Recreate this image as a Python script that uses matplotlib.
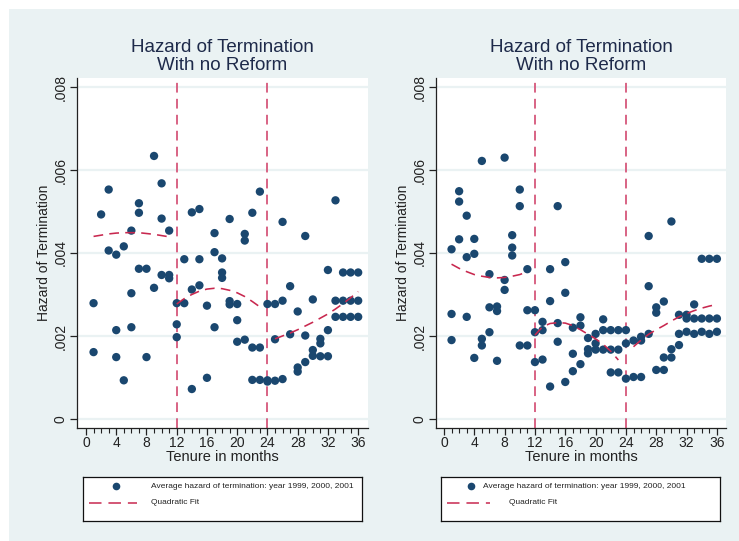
import matplotlib
matplotlib.use("Agg")
import matplotlib.pyplot as plt
from matplotlib.lines import Line2D
from matplotlib.patches import Rectangle

plt.rcParams['font.family'] = ['Liberation Sans', 'DejaVu Sans']
plt.rcParams['lines.scale_dashes'] = False

months = list(range(1, 37))

# hazard values per month (units of 1e-3)
left_pts = [
    [2.79, 1.61], [4.93], [5.53, 4.06], [3.96, 2.14, 1.49], [4.16, 0.93],
    [4.54, 3.03, 2.21], [5.20, 4.97, 3.62], [3.62, 1.49], [6.34, 3.16],
    [5.68, 4.83, 3.47], [4.54, 3.47, 3.39], [2.79, 2.28, 1.97],
    [3.85, 2.79], [4.98, 3.12, 0.72], [5.06, 3.85, 3.22], [2.73, 0.99],
    [4.48, 4.02, 2.21], [3.87, 3.53, 3.40], [4.82, 2.84, 2.76],
    [2.77, 2.38, 1.86], [4.46, 4.30, 1.91], [4.97, 1.72, 0.94],
    [5.48, 1.72, 0.94], [2.77, 0.93, 0.90],
    [2.77, 1.92, 0.92], [4.75, 2.85, 0.96], [3.20, 2.04], [2.59, 1.24, 1.14],
    [4.41, 2.01, 1.37], [2.88, 1.66, 1.52], [1.93, 1.82, 1.51],
    [3.59, 2.14, 1.51], [5.27, 2.85, 2.46], [3.53, 2.85, 2.46],
    [3.53, 2.85, 2.46], [3.53, 2.85, 2.46],
]

# same for the right chart
right_pts = [
    [4.09, 2.53, 1.90], [5.49, 5.24, 4.33], [4.90, 3.90, 2.46],
    [4.34, 3.98, 1.47], [6.22, 1.93, 1.77], [3.49, 2.69, 2.09],
    [2.71, 2.60, 1.40], [6.30, 3.35, 3.11], [4.43, 4.13, 3.94],
    [5.53, 5.13, 1.77], [3.61, 2.62, 1.77], [2.62, 2.09, 1.37],
    [2.34, 2.14, 1.43], [3.61, 2.84, 0.78], [5.13, 2.31, 1.86],
    [3.78, 3.04, 0.89], [2.20, 1.57, 1.15], [2.45, 2.25, 1.32],
    [1.95, 1.68, 1.58], [2.05, 1.82, 1.67], [2.40, 2.14, 1.67],
    [2.14, 1.67, 1.12], [2.14, 1.67, 1.12], [2.14, 1.82, 0.97],
    [1.89, 1.01], [1.98, 1.89, 1.01], [4.41, 3.20, 2.05],
    [2.69, 2.56, 1.18], [2.83, 1.48, 1.18], [4.76, 1.68, 1.48],
    [2.51, 2.05, 1.78], [2.51, 2.42, 2.10], [2.76, 2.42, 2.05],
    [3.86, 2.42, 2.10], [3.86, 2.42, 2.05], [3.86, 2.42, 2.10],
]

fit_months = [list(range(1, 12)), list(range(12, 24)), list(range(25, 37))]
left_fit = [
    [4.40, 4.43, 4.46, 4.48, 4.49, 4.49, 4.49, 4.47, 4.45, 4.42, 4.39],
    [2.77, 2.90, 3.00, 3.08, 3.13, 3.15, 3.14, 3.10, 3.04, 2.95, 2.83, 2.70],
    [1.93, 2.00, 2.07, 2.15, 2.24, 2.33, 2.43, 2.53, 2.65, 2.78, 2.92, 3.07],
]
right_fit = [
    [3.73, 3.63, 3.55, 3.48, 3.44, 3.41, 3.40, 3.41, 3.44, 3.48, 3.55],
    [2.02, 2.22, 2.30, 2.32, 2.31, 2.25, 2.15, 2.04, 1.93, 1.80, 1.63, 1.42],
    [1.74, 1.90, 2.04, 2.15, 2.25, 2.36, 2.46, 2.54, 2.61, 2.67, 2.72, 2.76],
]

cut_months = [12, 24]
yticks = [0, .002, .004, .006, .008]
ylabels = ['0', '.002', '.004', '.006', '.008']
title = "Hazard of Termination\nWith no Reform"
legend_text = "Average hazard of termination: year 1999, 2000, 2001"

BG = '#EAF2F3'
NAVY = '#1A476F'
FITC = '#C8284F'
VLC = '#D6577B'
TXT = '#1E2A4A'

W, H = 739, 541
fig = plt.figure(figsize=(W / 100, H / 100), dpi=100, facecolor=BG)
# thin white strips along the top and left edge
fig.patches.append(Rectangle((0, 1 - 9 / H), 1, 9 / H, transform=fig.transFigure,
                             facecolor='white', edgecolor='none', zorder=-10))
fig.patches.append(Rectangle((0, 0), 9 / W, 1, transform=fig.transFigure,
                             facecolor='white', edgecolor='none', zorder=-10))


def px_axes(x0, y0, x1, y1):
    return fig.add_axes([x0 / W, 1 - y1 / H, (x1 - x0) / W, (y1 - y0) / H])


def panel(ax, pts, fits, xlim):
    xs = [m for m, vals in zip(months, pts) for v in vals]
    ys = [v / 1000 for vals in pts for v in vals]
    ax.set_facecolor('white')
    for s in ['top', 'right']:
        ax.spines[s].set_visible(False)
    for s in ['left', 'bottom']:
        ax.spines[s].set_color('#222222')
        ax.spines[s].set_linewidth(0.9)
    ax.set_xlim(*xlim)
    ax.set_ylim(-0.00022, 0.00822)
    ax.yaxis.grid(True, color=BG, lw=1.6)
    ax.set_axisbelow(True)
    for c in cut_months:
        ax.axvline(c, color=VLC, lw=1.3, dashes=(7, 4.5), zorder=1)
    ax.scatter(xs, ys, s=36, color=NAVY, edgecolors='none', zorder=2)
    for fm, fv in zip(fit_months, fits):
        ax.plot(fm, [v / 1000 for v in fv], color=FITC, lw=1.15,
                dashes=(7, 4.5), zorder=3)
    ax.set_yticks(yticks)
    ax.set_yticklabels(ylabels, rotation=90, va='center')
    ax.set_xticks(range(0, 37, 4))
    ax.set_xticks(range(0, 37), minor=True)
    ax.tick_params(axis='both', which='major', length=5, width=0.9,
                   labelsize=10, colors='#222222', pad=1.5)
    ax.tick_params(axis='x', which='major', pad=1)
    ax.tick_params(axis='x', which='minor', length=3.5, width=0.8, colors='#222222')
    ax.tick_params(axis='y', which='minor', left=False)
    ax.set_ylabel("Hazard of Termination", fontsize=10, color='#222222', labelpad=2)
    ax.set_xlabel("Tenure in months", fontsize=10.5, color='#222222', labelpad=0)
    ax.set_title(title, fontsize=13.5, color=TXT, linespacing=1.05, pad=6)


def legend_box(x0, y0, x1, y1, mx, tx1, lx0, lx1, tx2):
    lg = px_axes(x0, y0, x1, y1)
    lg.set_xlim(x0, x1)
    lg.set_ylim(y1, y0)
    lg.set_xticks([])
    lg.set_yticks([])
    for s in lg.spines.values():
        s.set_linewidth(0.9)
        s.set_color('#111111')
    r1, r2 = y0 + 9, y0 + 26
    lg.add_line(Line2D([mx], [r1], marker='o', ms=5.5, color=NAVY, mec='none'))
    lg.text(tx1, r1, legend_text, fontsize=6, va='center', color='#222222')
    lg.add_line(Line2D([lx0, lx1], [r2, r2], color=FITC, lw=1.1, dashes=(9, 5)))
    lg.text(tx2, r2, "Quadratic Fit", fontsize=6, va='center', color='#222222')


axl = px_axes(77, 78, 368, 428)
panel(axl, left_pts, left_fit, (-1.19, 37.3))
axr = px_axes(436, 78, 726, 428)
panel(axr, right_pts, right_fit, (-1.05, 37.2))

legend_box(83, 477, 362, 521, 116, 151, 89, 137, 151)
legend_box(441, 477, 720, 521, 471, 483, 447, 490, 509)

fig.savefig("out.png", dpi=100, facecolor=fig.get_facecolor())
